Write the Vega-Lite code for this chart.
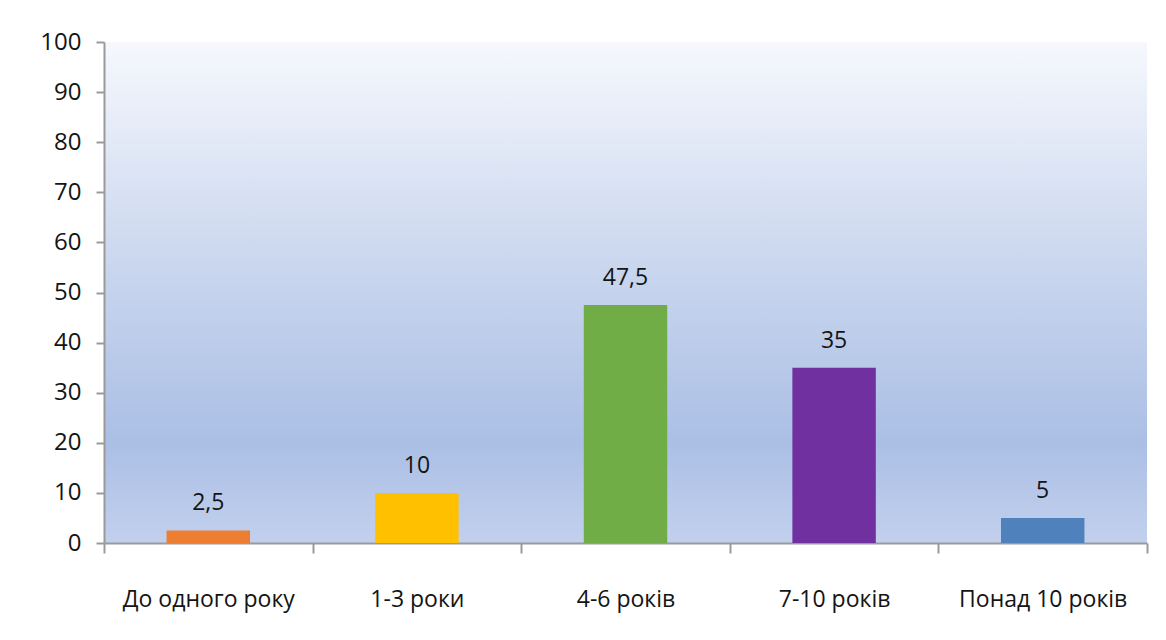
{
  "$schema": "https://vega.github.io/schema/vega-lite/v6.json",
  "width": 1043,
  "height": 501,
  "autosize": {"type": "none"},
  "padding": {"left": 104, "top": 42, "right": 19, "bottom": 97},
  "background": "white",
  "config": {
    "view": {
      "stroke": null,
      "fill": {
        "gradient": "linear",
        "x1": 0, "y1": 0, "x2": 0, "y2": 1,
        "stops": [
          {"offset": 0, "color": "#f6f8fd"},
          {"offset": 0.45, "color": "#c9d6ee"},
          {"offset": 0.8, "color": "#abbfe5"},
          {"offset": 1, "color": "#c2d0ed"}
        ]
      }
    },
    "font": "Open Sans"
  },
  "data": {
    "values": [
      {"category": "До одного року", "value": 2.5, "label": "2,5", "color": "#ED7D31"},
      {"category": "1-3 роки", "value": 10, "label": "10", "color": "#FFC000"},
      {"category": "4-6 років", "value": 47.5, "label": "47,5", "color": "#70AD47"},
      {"category": "7-10 років", "value": 35, "label": "35", "color": "#7030A0"},
      {"category": "Понад 10 років", "value": 5, "label": "5", "color": "#4F81BD"}
    ]
  },
  "encoding": {
    "x": {
      "field": "category",
      "type": "nominal",
      "sort": null,
      "scale": {"paddingInner": 0, "paddingOuter": 0},
      "axis": {
        "title": null,
        "labelAngle": 0,
        "labelFontSize": 23,
        "labelColor": "#141414",
        "labelPadding": 35,
        "labelFont": "Open Sans",
        "tickBand": "extent",
        "tickSize": 10,
        "tickColor": "#9a9a9a",
        "tickWidth": 2,
        "domainColor": "#9a9a9a",
        "domainWidth": 2
      }
    },
    "y": {
      "field": "value",
      "type": "quantitative",
      "scale": {"domain": [0, 100]},
      "axis": {
        "title": null,
        "values": [0, 10, 20, 30, 40, 50, 60, 70, 80, 90, 100],
        "grid": false,
        "labelFontSize": 24,
        "labelColor": "#141414",
        "labelPadding": 15,
        "tickSize": 8,
        "tickColor": "#9a9a9a",
        "tickWidth": 2,
        "domainColor": "#9a9a9a",
        "domainWidth": 2
      }
    }
  },
  "layer": [
    {
      "mark": {"type": "bar", "width": {"band": 0.4}},
      "encoding": {
        "color": {"field": "color", "type": "nominal", "scale": null, "legend": null}
      }
    },
    {
      "mark": {"type": "text", "baseline": "alphabetic", "dy": -20, "fontSize": 23, "color": "#141414"},
      "encoding": {
        "text": {"field": "label"}
      }
    }
  ]
}
